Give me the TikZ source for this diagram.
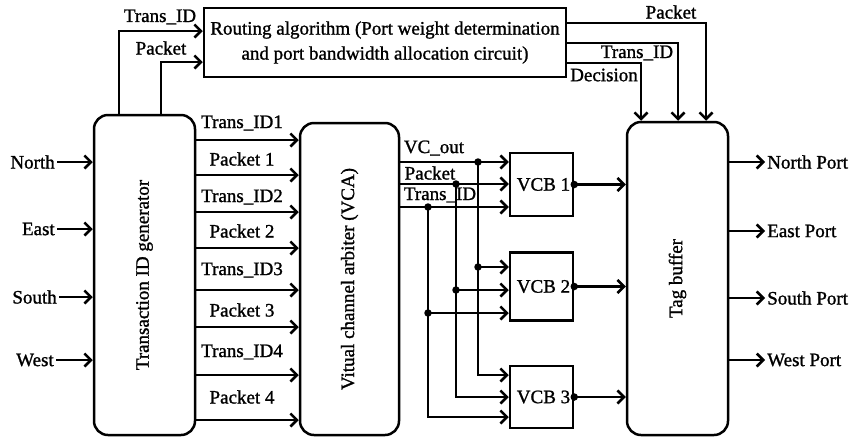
\documentclass[tikz,border=0pt]{standalone}
\usepackage{fontspec}
\setmainfont{Liberation Serif}[FakeBold=1.2]
\newfontfamily\thickserif{Liberation Serif}[FakeBold=1.2]
\usetikzlibrary{arrows.meta}
\begin{document}
\begin{tikzpicture}[x=1pt,y=-1pt,line width=2.5pt,
  every node/.style={font=\thickserif\fontsize{19}{25}\selectfont},
  blk/.style={draw,inner sep=0pt,line width=2.5pt},
  rblk/.style={blk,rounded corners=14pt},
  lbl/.style={inner sep=1pt},
  arr/.style={-{Straight Barb[length=6.5pt,width=13pt]}},
  dot/.style={circle,fill,inner sep=0pt,minimum size=7.5pt}]
\useasboundingbox (0,0) rectangle (851,437);
% main blocks
\node[rblk,minimum width=101pt,minimum height=320pt] (tidg) at (144.5,275) {};
\node[rotate=90] (tidgtxt) at (tidg.center) {Transaction ID generator};
\node[blk,minimum width=362pt,minimum height=69pt,align=center] (route) at (385,42.5)
  {Routing algorithm (Port weight determination\\and port bandwidth allocation circuit)};
\node[rblk,minimum width=99pt,minimum height=312pt] (vca) at (349.5,279) {};
\node[rotate=90] (vcatxt) at (vca.center) {Vitual channel arbiter (VCA)};
\node[blk,minimum width=63pt,minimum height=63pt] (vcb1) at (541.5,184.5) {};
\node[blk,minimum width=63pt,minimum height=68pt] (vcb2) at (541.5,286.5) {};
\node[blk,minimum width=63pt,minimum height=62pt] (vcb3) at (541.5,397) {};
\node (vcb1t) at ([xshift=2pt]vcb1.center) {VCB 1};
\node (vcb2t) at ([xshift=2pt]vcb2.center) {VCB 2};
\node (vcb3t) at ([xshift=2pt]vcb3.center) {VCB 3};
\node[rblk,minimum width=101pt,minimum height=313pt] (tag) at (677.5,278.5) {};
\node[rotate=90] (tagtxt) at (tag.center) {Tag buffer};
% left inputs
\node[lbl,anchor=east] (inN) at (57,162) {North};
\node[lbl,anchor=east] (inE) at (57,229) {East};
\node[lbl,anchor=east] (inS) at (59,297) {South};
\node[lbl,anchor=east] (inW) at (56,360) {West};
\foreach \n in {inN,inE,inS,inW}
  \draw[arr] (\n.east) -- (tidg.west |- \n.east);
% right outputs
\node[lbl,anchor=west] (oN) at (765,162) {North Port};
\node[lbl,anchor=west] (oE) at (765,231) {East Port};
\node[lbl,anchor=west] (oS) at (765,298) {South Port};
\node[lbl,anchor=west] (oW) at (765,360) {West Port};
\foreach \n in {oN,oE,oS,oW}
  \draw[arr] (tag.east |- \n.west) -- (\n.west);
% tidg to routing
\draw[arr] (tidg.north -| 119,0) |- (route.west |- 0,31);
\draw[arr] (tidg.north -| 161,0) |- (route.west |- 0,62);
\node[lbl] (lt1) at (160,17) {Trans\_ID};
\node[lbl] (lt2) at (161,48) {Packet};
% routing to tag
\draw[arr] (route.east |- 0,23) -| (tag.north -| 706,0);
\draw[arr] (route.east |- 0,43) -| (tag.north -| 678,0);
\draw[arr] (route.east |- 0,63) -| (tag.north -| 641,0);
\node[lbl] (lr1) at (671,12) {Packet};
\node[lbl] (lr2) at (637,53) {Trans\_ID};
\node[lbl] (lr3) at (604,75) {Decision};
% tidg to vca
\foreach \y/\t/\ly in {140/Trans\_ID1/123, 175/Packet 1/159, 212/Trans\_ID2/197, 248/Packet 2/231,
                       290/Trans\_ID3/270, 327/Packet 3/310, 375/Trans\_ID4/352, 420/Packet 4/397}{
  \draw[arr] (tidg.east |- 0,\y) -- (vca.west |- 0,\y);
  \node[lbl] at (242,\ly) {\t};
}
% vca to vcb1
\draw[arr] (vca.east |- 0,162) -- (vcb1.west |- 0,162);
\draw[arr] (vca.east |- 0,184) -- (vcb1.west |- 0,184);
\draw[arr] (vca.east |- 0,207) -- (vcb1.west |- 0,207);
\node[lbl] (lv1) at (434,148) {VC\_out};
\node[lbl] (lv2) at (430,173) {Packet};
\node[lbl] (lv3) at (440,195) {Trans\_ID};
% branches
\coordinate (jv1) at (478,162); \coordinate (jv2) at (478,267);
\coordinate (jp1) at (456,184); \coordinate (jp2) at (456,290);
\coordinate (jt1) at (428,207); \coordinate (jt2) at (428,313);
\draw[arr] (jv1) |- (vcb3.west |- 0,375);
\draw[arr] (jv2) -- (vcb2.west |- jv2);
\draw[arr] (jp1) |- (vcb3.west |- 0,397);
\draw[arr] (jp2) -- (vcb2.west |- jp2);
\draw[arr] (jt1) |- (vcb3.west |- 0,417);
\draw[arr] (jt2) -- (vcb2.west |- jt2);
\foreach \c in {jv1,jv2,jp1,jp2,jt1,jt2} \node[dot] at (\c) {};
% vcb to tag
\foreach \b in {vcb1,vcb2,vcb3}{
  \node[dot] at (\b.east) {};
  \draw[arr] (\b.east) -- (tag.west |- \b.east);
}
\end{tikzpicture}
\end{document}
